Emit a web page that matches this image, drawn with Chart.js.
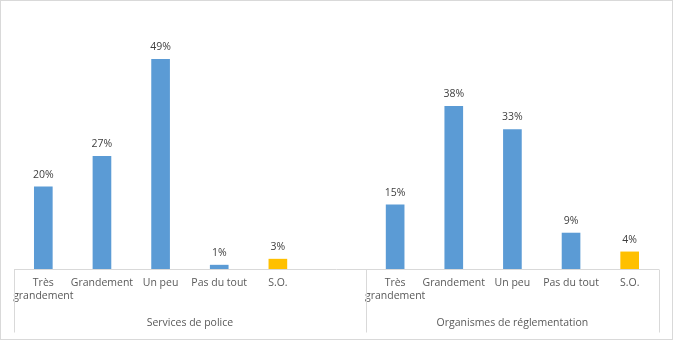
<!DOCTYPE html>
<html>
<head>
<meta charset="utf-8">
<script src="https://cdn.jsdelivr.net/npm/chart.js@4"></script>
<style>
  body { margin: 0; background: #fff; }
  #wrap { width: 673px; height: 340px; position: relative; }
</style>
</head>
<body>
<div id="wrap"><canvas id="chart" width="673" height="340"></canvas></div>
<script>
// Categories (the empty slot separates the two groups, as in the original)
const categories = [['Très', 'grandement'], 'Grandement', 'Un peu', 'Pas du tout', 'S.O.', '',
                    ['Très', 'grandement'], 'Grandement', 'Un peu', 'Pas du tout', 'S.O.'];
const groups = ['Services de police', 'Organismes de réglementation'];
const groupSizes = [6, 5];

// Bar heights (unrounded percentages)
const policeValues = [19.2, 26.3, 49, 0.9, 2.3];
const regulatorValues = [15, 38, 32.6, 8.4, 4];
// Labels as printed above the bars
const policeLabels = ['20%', '27%', '49%', '1%', '3%'];
const regulatorLabels = ['15%', '38%', '33%', '9%', '4%'];

const blue = '#5B9BD5';
const gold = '#FFC000';
const values = [...policeValues, null, ...regulatorValues];
const valueLabels = [...policeLabels, null, ...regulatorLabels];
const colors = categories.map(c => c === 'S.O.' ? gold : blue);

const fontFamily = '"Open Sans", "Noto Sans", sans-serif';

// Draw data labels, axis line, group separators and group names
const decorations = {
    id: 'decorations',
    afterDatasetsDraw(chart) {
        const ctx = chart.ctx;
        const x = chart.scales.x;
        const area = chart.chartArea;
        ctx.save();

        // value labels above bars
        ctx.font = '10.5px ' + fontFamily;
        ctx.fillStyle = '#404040';
        ctx.textAlign = 'center';
        ctx.textBaseline = 'bottom';
        chart.getDatasetMeta(0).data.forEach((bar, i) => {
            if (valueLabels[i] == null) return;
            ctx.fillText(valueLabels[i], bar.x, bar.y - 7);
        });

        // axis line and separators
        ctx.strokeStyle = '#d9d9d9';
        ctx.lineWidth = 1;
        const y0 = Math.round(area.bottom) + 0.5;
        ctx.beginPath();
        ctx.moveTo(area.left, y0);
        ctx.lineTo(area.right, y0);
        const splits = [area.left];
        let idx = 0;
        groupSizes.forEach((n, g) => {
            idx += n;
            if (g < groupSizes.length - 1) {
                splits.push((x.getPixelForValue(idx - 1) + x.getPixelForValue(idx)) / 2);
            }
        });
        splits.push(area.right);
        splits.forEach(sx => {
            const px = Math.round(sx) + 0.5;
            ctx.moveTo(px, y0);
            ctx.lineTo(px, y0 + 63);
        });
        ctx.stroke();

        // group labels
        ctx.fillStyle = '#595959';
        ctx.textBaseline = 'middle';
        groups.forEach((name, g) => {
            ctx.fillText(name, (splits[g] + splits[g + 1]) / 2, y0 + 54);
        });

        // outer frame
        ctx.strokeStyle = '#d9d9d9';
        ctx.strokeRect(0.5, 0.5, chart.width - 1, chart.height - 1);
        ctx.restore();
    }
};

new Chart(document.getElementById('chart'), {
    type: 'bar',
    data: {
        labels: categories,
        datasets: [{
            data: values,
            backgroundColor: colors,
            barThickness: 18
        }]
    },
    options: {
        responsive: false,
        animation: false,
        layout: { padding: { left: 14, right: 14, top: 55, bottom: 0 } },
        plugins: {
            legend: { display: false },
            tooltip: { enabled: false }
        },
        scales: {
            x: {
                grid: { display: false, drawTicks: false },
                border: { display: false },
                ticks: {
                    autoSkip: false,
                    maxRotation: 0,
                    padding: 8,
                    color: '#595959',
                    font: { family: fontFamily, size: 10.5 }
                },
                afterFit(scale) { scale.height = 71; }
            },
            y: {
                display: false,
                min: 0,
                max: 50,
                afterFit(scale) { scale.width = 0; }
            }
        }
    },
    plugins: [decorations]
});
</script>
</body>
</html>
